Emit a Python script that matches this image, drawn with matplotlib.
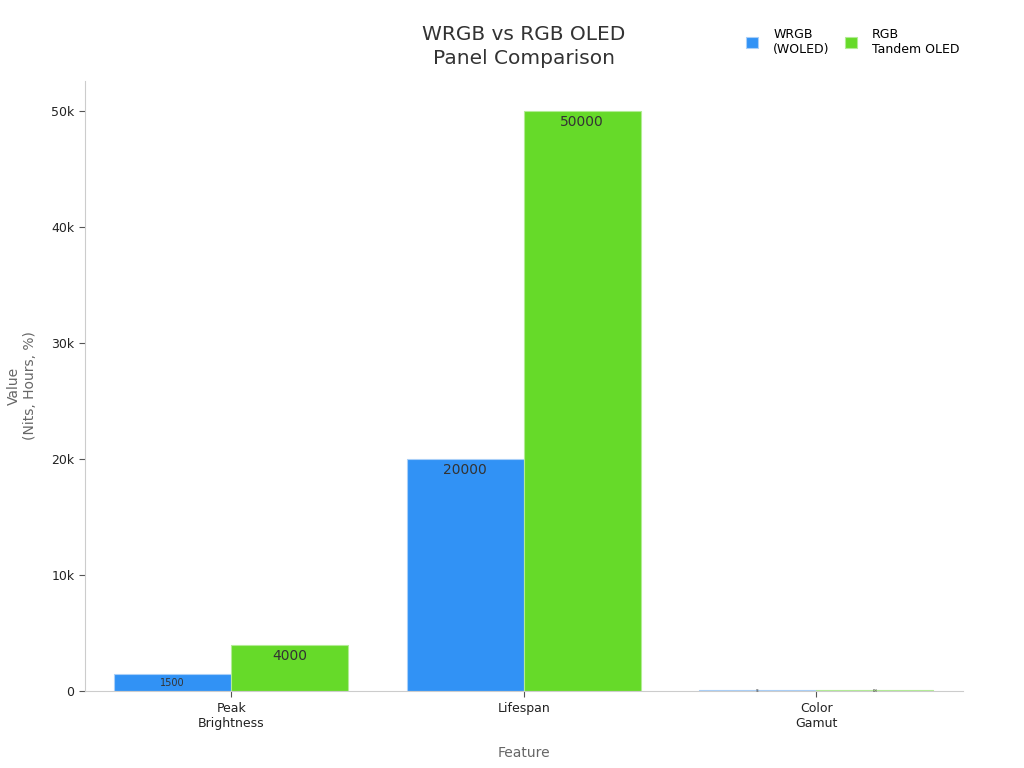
import matplotlib.pyplot as plt
import numpy as np
import matplotlib.ticker as ticker

# data
features = ["Peak\nBrightness", "Lifespan", "Color\nGamut"]
wrgb = [1500, 20000, 98]
rgb_tandem = [4000, 50000, 100]
series_names = ["WRGB\n(WOLED)", "RGB\nTandem OLED"]
wrgb_label_sizes = [7, 10, 2]
rgb_label_sizes = [10, 10, 2]

blue = '#3192F5'
green = '#66DA29'

fig, ax = plt.subplots(figsize=(10.24, 7.68), dpi=100)
fig.subplots_adjust(left=0.083, right=0.94, top=0.895, bottom=0.1)

x = np.arange(len(features))
w = 0.4
b1 = ax.bar(x - w / 2, wrgb, width=w, color=blue, edgecolor='#a9cff8', linewidth=0.8, label=series_names[0])
b2 = ax.bar(x + w / 2, rgb_tandem, width=w, color=green, edgecolor='#b2ec94', linewidth=0.8, label=series_names[1])

# value labels inside the top of each bar (tiny bars get a label centred on the bar)
for bars, sizes in ((b1, wrgb_label_sizes), (b2, rgb_label_sizes)):
    for bar, fs in zip(bars, sizes):
        h = bar.get_height()
        if fs < 5:
            ax.annotate(f'{h:.0f}', (bar.get_x() + bar.get_width() / 2, h / 2),
                        ha='center', va='center', fontsize=fs, color='#333333')
        else:
            ax.annotate(f'{h:.0f}', (bar.get_x() + bar.get_width() / 2, h), xytext=(0, -3),
                        textcoords='offset points', ha='center', va='top', fontsize=fs, color='#333333')

ax.set_xlim(-0.5, 2.5)
ax.set_ylim(0, 52600)
ax.set_xticks(x)
ax.set_xticklabels(features, fontsize=9, color='#222222')
ax.set_yticks([0, 10000, 20000, 30000, 40000, 50000])
ax.yaxis.set_major_formatter(ticker.FuncFormatter(lambda y, _: '0' if y == 0 else f'{y/1000:.0f}k'))
ax.tick_params(axis='y', labelsize=9, colors='#222222')
ax.tick_params(axis='both', color='#555555', length=4)

ax.spines['top'].set_visible(False)
ax.spines['right'].set_visible(False)
ax.spines['left'].set_color('#cccccc')
ax.spines['bottom'].set_color('#cccccc')

ax.set_xlabel('Feature', fontsize=10, color='#666666', labelpad=12)
ax.set_ylabel('Value\n(Nits, Hours, %)', fontsize=10, color='#666666', labelpad=10)
ax.set_title('WRGB vs RGB OLED\nPanel Comparison', fontsize=14.5, color='#333333', pad=12,
             linespacing=1.35)

ax.legend(loc='upper left', bbox_to_anchor=(0.74, 1.105), ncol=2, frameon=False, fontsize=9,
          handlelength=1.0, handleheight=1.0, columnspacing=1.2, handletextpad=1.2)

plt.savefig('out.png', dpi=100)
